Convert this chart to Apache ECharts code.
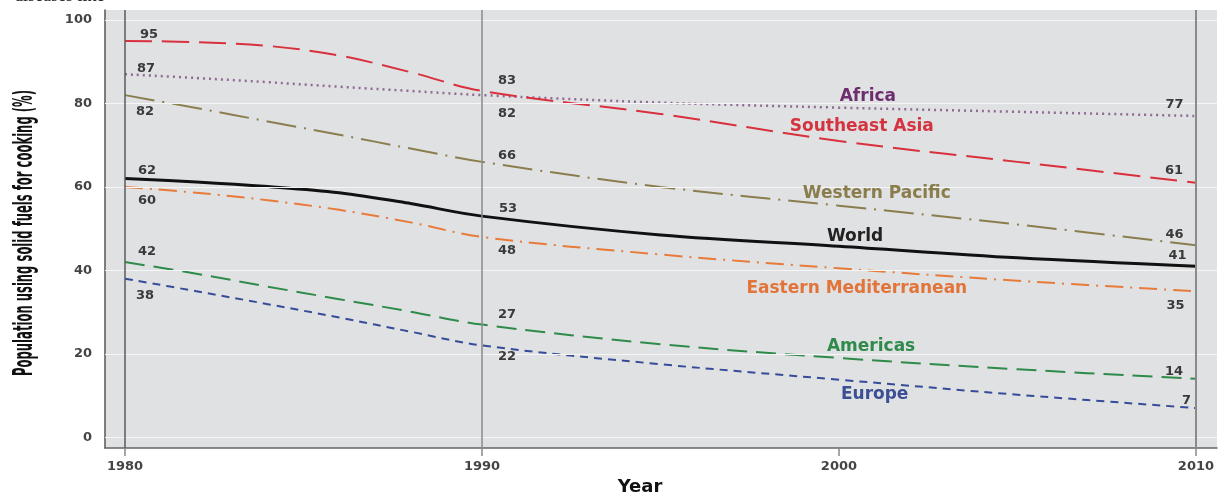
<!DOCTYPE html>
<html><head><meta charset="utf-8">
<script src="https://cdn.jsdelivr.net/npm/echarts@6/dist/echarts.min.js"></script>
<style>html,body{margin:0;padding:0;background:#fff;overflow:hidden}#c{position:absolute;left:0;top:0;width:1220px;height:501px}</style>
</head><body><div id="c"></div>
<script>
// ---- data ----
const years = [1980, 1982, 1984, 1986, 1988, 1990, 1995, 2000, 2005, 2010];
const africa         = [87, 86.1, 85.1, 84, 83, 82, 80.2, 79, 78, 77];
const southeastAsia  = [95, 94.7, 93.8, 91.5, 87.5, 83, 77.5, 71, 66, 61];
const westernPacific = [82, 78.9, 75.7, 72.5, 69.2, 66, 60, 55.5, 51, 46];
const world          = [62, 61.2, 60.1, 58.6, 56, 53, 48.5, 45.8, 43, 41];
const easternMed     = [60, 58.6, 56.8, 54.5, 51.5, 48, 43.8, 40.5, 37.5, 35];
const americas       = [42, 39.2, 36.1, 33.1, 30.1, 27, 22.3, 19, 16.3, 14];
const europe         = [38, 35, 31.9, 28.7, 25.3, 22, 17.5, 13.8, 10.2, 7];
const xTicks = [1980, 1990, 2000, 2010];
const yTicks = [0, 20, 40, 60, 80, 100];
const labelYears = [1980, 1990, 2010];
const refYears = [1980, 1990, 2010];

// ---- styles / layout ----
const defs = [
  {name: 'Africa', data: africa, color: '#8f6b93', text: '#6d2e6e', type: [2, 4], width: 2.5,
   off: [[21, -6], [25, 19], [-21.5, -11]], nameAt: [2000.81, 81.6]},
  {name: 'Southeast Asia', data: southeastAsia, color: '#d9303d', text: '#d43340', type: [27, 10], width: 2,
   off: [[24, -6.5], [25, -10], [-22, -12]], nameAt: [2000.64, 74.5]},
  {name: 'Western Pacific', data: westernPacific, color: '#8b7e4e', text: '#8a7d4c', type: [30, 8, 2, 8], width: 2,
   off: [[20, 17], [25, -6], [-21.5, -11]], nameAt: [2001.06, 58.4]},
  {name: 'World', data: world, color: '#111111', text: '#222222', type: 'solid', width: 3,
   off: [[22, -8], [26, -7], [-18.5, -11]], nameAt: [2000.45, 48.2]},
  {name: 'Eastern Mediterranean', data: easternMed, color: '#e87a3a', text: '#e2743a', type: [18, 7, 2, 7], width: 2,
   off: [[22, 14], [25, 14], [-20.5, 14]], nameAt: [2000.5, 35.7]},
  {name: 'Americas', data: americas, color: '#2e8b4a', text: '#2f8a4c', type: [20, 9], width: 2,
   off: [[22, -10], [25, -10], [-22, -7]], nameAt: [2000.9, 21.7]},
  {name: 'Europe', data: europe, color: '#364c98', text: '#3c4f95', type: [8, 6], width: 2,
   off: [[20, 17], [25, 11], [-9.5, -7]], nameAt: [2001.0, 10.2]}
];

const numFont = 'DejaVu Sans';
const series = [];
series.push({
  type: 'line', data: [], z: 1, silent: true,
  markLine: {
    silent: true, symbol: 'none', animation: false, label: {show: false},
    data: yTicks.map(v => ({yAxis: v, lineStyle: {color: '#f6f6f6', width: 1.2, type: 'solid'}}))
      .concat(refYears.map((v, i) => ({xAxis: v, lineStyle: {color: i === 0 ? '#5a5a5a' : '#8a8a8a', width: i === 2 ? 2 : 1.5, type: 'solid'}})))
  }
});
defs.forEach(d => {
  const pts = years.map((y, i) => [y, d.data[i]]);
  const mp = labelYears.map((ly, k) => {
    const v = d.data[years.indexOf(ly)];
    return {
      coord: [ly, v], symbol: 'circle', symbolSize: 1, itemStyle: {color: 'rgba(0,0,0,0)'},
      label: {show: true, position: 'inside', align: 'center', verticalAlign: 'middle',
        offset: d.off[k], formatter: String(Math.round(v)),
        fontFamily: numFont, fontWeight: 'bold', fontSize: 13, color: '#3a3a3a'}
    };
  });
  mp.push({
    coord: d.nameAt, symbol: 'circle', symbolSize: 1, itemStyle: {color: 'rgba(0,0,0,0)'},
    label: {show: true, position: 'inside', align: 'center', verticalAlign: 'middle',
      formatter: d.name, fontFamily: numFont, fontWeight: 'bold', fontSize: 17, color: d.text}
  });
  series.push({
    name: d.name, type: 'line', data: pts, smooth: 0.35, showSymbol: false, z: 3,
    lineStyle: {color: d.color, width: d.width, type: d.type},
    markPoint: {silent: true, animation: false, data: mp}
  });
});

const chart = echarts.init(document.getElementById('c'), null, {renderer: 'canvas', width: 1220, height: 501});
chart.setOption({
  animation: false,
  backgroundColor: '#ffffff',
  graphic: [
    {type: 'text', left: 14, top: -13, style: {text: 'diseases like', font: '18px "Liberation Serif"', fill: '#222'}},
    {type: 'text', x: 25, y: 233, rotation: Math.PI / 2, scaleX: 0.43, scaleY: 1,
     style: {text: 'Population using solid fuels for cooking (%)', font: 'bold 27px "DejaVu Sans"', fill: '#111',
       align: 'center', verticalAlign: 'middle'}}
  ],
  grid: {left: 105, right: 3, top: 10, bottom: 47, show: true, backgroundColor: '#e0e1e3', borderWidth: 0},
  xAxis: {
    type: 'value', min: 1979.44, max: 2010.59,
    name: 'Year', nameLocation: 'middle', nameGap: 29,
    nameTextStyle: {fontFamily: numFont, fontWeight: 'bold', fontSize: 18, color: '#111', padding: [0, 42, 0, 0]},
    axisLine: {onZero: false, lineStyle: {color: '#666', width: 1.5}},
    axisTick: {show: true, customValues: xTicks, length: 8, lineStyle: {color: '#888', width: 1.5}},
    axisLabel: {customValues: xTicks, formatter: v => String(v), margin: 12,
      fontFamily: numFont, fontWeight: 'bold', fontSize: 13, color: '#444'},
    splitLine: {show: false}
  },
  yAxis: {
    type: 'value', min: -2.6, max: 102.4,
    axisLine: {show: true, onZero: false, lineStyle: {color: '#555', width: 1.5}},
    axisTick: {show: false},
    axisLabel: {customValues: yTicks, margin: 13, fontFamily: numFont, fontWeight: 'bold', fontSize: 13, color: '#444'},
    splitLine: {show: false}
  },
  series: series
});
</script></body></html>
